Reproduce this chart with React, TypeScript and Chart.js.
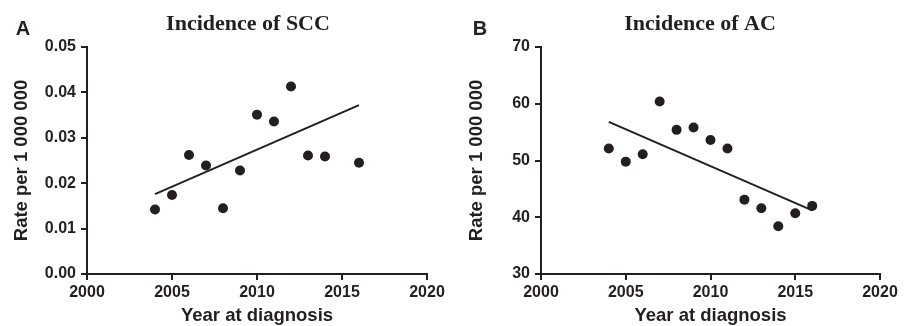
import React, { useEffect, useRef } from "react";
import { Chart, registerables } from "chart.js";

Chart.register(...registerables);

// ---- Data ----
const sccYears = [2004, 2005, 2006, 2007, 2008, 2009, 2010, 2011, 2012, 2013, 2014, 2016];
const sccRates = [0.0142, 0.0174, 0.0262, 0.0239, 0.0145, 0.0228, 0.0351, 0.0336, 0.0413, 0.0261, 0.0259, 0.0245];
const sccTrendYears = [2004, 2016];
const sccTrendRates = [0.0176, 0.0372];

const acYears = [2004, 2005, 2006, 2007, 2008, 2009, 2010, 2011, 2012, 2013, 2014, 2015, 2016];
const acRates = [52.1, 49.8, 51.1, 60.4, 55.4, 55.8, 53.6, 52.1, 43.1, 41.6, 38.4, 40.7, 42.0];
const acTrendYears = [2004, 2016];
const acTrendRates = [56.8, 41.2];

const xTicksRange = [2000, 2020];
const sccYRange = [0, 0.05];
const acYRange = [30, 70];

const INK = "#231f20";

type PanelProps = {
  letter: string;
  title: string;
  years: number[];
  rates: number[];
  trendYears: number[];
  trendRates: number[];
  yRange: number[];
  yStep: number;
  decimals: number;
  width: number;
  axisLeft: number;
  axisRight: number;
  titleX: number;
  letterX: number;
};

function Panel(p: PanelProps) {
  const ref = useRef<HTMLCanvasElement | null>(null);
  useEffect(() => {
    if (!ref.current) return;
    const overlay = {
      id: "overlay",
      afterDraw(chart: any) {
        const ctx = chart.ctx;
        ctx.save();
        ctx.fillStyle = INK;
        ctx.textBaseline = "alphabetic";
        ctx.textAlign = "center";
        ctx.font = 'bold 22px "Liberation Serif", "Times New Roman", serif';
        ctx.fillText(p.title, p.titleX, 30);
        ctx.font = 'bold 20px "Liberation Sans", Arial, sans-serif';
        ctx.fillText(p.letter, p.letterX, 35);
        ctx.restore();
      },
    };
    const chart = new Chart(ref.current, {
      type: "scatter",
      data: {
        datasets: [
          {
            data: p.years.map((x, i) => ({ x, y: p.rates[i] })),
            pointRadius: 5,
            pointHoverRadius: 5,
            pointBackgroundColor: INK,
            pointBorderWidth: 0,
            showLine: false,
          },
          {
            data: p.trendYears.map((x, i) => ({ x, y: p.trendRates[i] })),
            showLine: true,
            pointRadius: 0,
            borderColor: INK,
            borderWidth: 2,
          },
        ],
      },
      options: {
        responsive: false,
        animation: false,
        layout: { padding: { top: 47, left: 0, right: p.width - p.axisRight, bottom: 0 } },
        plugins: { legend: { display: false }, tooltip: { enabled: false }, title: { display: false } },
        scales: {
          x: {
            type: "linear",
            min: xTicksRange[0],
            max: xTicksRange[1],
            afterFit: (s: any) => { s.height = 52; },
            ticks: {
              stepSize: 5,
              color: INK,
              padding: 3,
              maxRotation: 0,
              font: { family: '"Liberation Sans", Arial, sans-serif', size: 16, weight: "bold" },
              callback: (v: any) => String(v),
            },
            grid: { display: true, drawOnChartArea: false, drawTicks: true, tickLength: 6, color: INK, lineWidth: 2 },
            border: { display: true, color: INK, width: 2 },
            title: {
              display: true,
              text: "Year at diagnosis",
              color: INK,
              padding: { top: 0, bottom: 1 },
              font: { family: '"Liberation Sans", Arial, sans-serif', size: 18.5, weight: "bold", lineHeight: 1 },
            },
          },
          y: {
            type: "linear",
            min: p.yRange[0],
            max: p.yRange[1],
            afterFit: (s: any) => { s.width = p.axisLeft; },
            ticks: {
              stepSize: p.yStep,
              color: INK,
              padding: 5,
              font: { family: '"Liberation Sans", Arial, sans-serif', size: 16, weight: "bold" },
              callback: (v: any) => Number(v).toFixed(p.decimals),
            },
            grid: { display: true, drawOnChartArea: false, drawTicks: true, tickLength: 6, color: INK, lineWidth: 2 },
            border: { display: true, color: INK, width: 2 },
            title: {
              display: true,
              text: "Rate per 1 000 000",
              color: INK,
              padding: { top: 13, bottom: 0 },
              font: { family: '"Liberation Sans", Arial, sans-serif', size: 18.5, weight: "bold", lineHeight: 1 },
            },
          },
        },
      },
      plugins: [overlay],
    } as any);
    return () => chart.destroy();
  }, []);
  return <canvas ref={ref} width={p.width} height={326} style={{ display: "block", width: p.width, height: 326 }} />;
}

export default function App() {
  return (
    <div style={{ position: "absolute", left: 0, top: 0, width: 911, height: 326, display: "flex", background: "#fff" }}>
      <Panel
        letter="A"
        title="Incidence of SCC"
        years={sccYears}
        rates={sccRates}
        trendYears={sccTrendYears}
        trendRates={sccTrendRates}
        yRange={sccYRange}
        yStep={0.01}
        decimals={2}
        width={455}
        axisLeft={87}
        axisRight={427}
        titleX={248}
        letterX={23}
      />
      <Panel
        letter="B"
        title="Incidence of AC"
        years={acYears}
        rates={acRates}
        trendYears={acTrendYears}
        trendRates={acTrendRates}
        yRange={acYRange}
        yStep={10}
        decimals={0}
        width={456}
        axisLeft={86}
        axisRight={425}
        titleX={245}
        letterX={25}
      />
    </div>
  );
}
